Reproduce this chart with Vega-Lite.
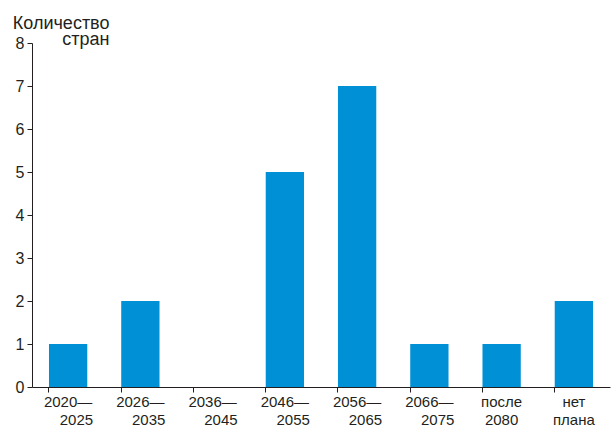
{
  "$schema": "https://vega.github.io/schema/vega-lite/v6.json",
  "autosize": "none",
  "width": 578,
  "height": 344,
  "padding": {"left": 32, "top": 43, "right": 2, "bottom": 40},
  "background": "white",
  "config": {
    "view": {"stroke": null},
    "font": "Liberation Sans"
  },
  "data": {
    "values": [
      {"period": "2020—|\u200b\u2007\u20072025", "count": 1},
      {"period": "2026—|\u200b\u2007\u20072035", "count": 2},
      {"period": "2036—|\u200b\u2007\u20072045", "count": 0},
      {"period": "2046—|\u200b\u2007\u20072055", "count": 5},
      {"period": "2056—|\u200b\u2007\u20072065", "count": 7},
      {"period": "2066—|\u200b\u2007\u20072075", "count": 1},
      {"period": "после|2080", "count": 1},
      {"period": "нет|плана", "count": 2}
    ]
  },
  "mark": {"type": "bar", "color": "#0090d6"},
  "encoding": {
    "x": {
      "field": "period",
      "type": "nominal",
      "sort": null,
      "scale": {"paddingInner": 0.47, "paddingOuter": 0.235},
      "axis": {
        "title": null,
        "labelAngle": 0,
        "labelExpr": "split(datum.label, '|')",
        "labelFont": "Liberation Sans",
        "labelFontSize": 15,
        "labelColor": "#231f20",
        "labelLineHeight": 18,
        "labelPadding": 2,
        "labelBaseline": "top",
        "bandPosition": 0,
        "tickSize": 5,
        "tickColor": "#231f20",
        "domainColor": "#231f20",
        "labelFlush": false,
        "labelOverlap": false
      }
    },
    "y": {
      "field": "count",
      "type": "quantitative",
      "scale": {"domain": [0, 8], "nice": false},
      "axis": {
        "values": [0, 1, 2, 3, 4, 5, 6, 7, 8],
        "grid": false,
        "title": ["Количество", "стран"],
        "titleAngle": 0,
        "titleAlign": "right",
        "titleBaseline": "alphabetic",
        "titleX": 77,
        "titleY": -15,
        "titleFont": "Liberation Sans",
        "titleFontSize": 18,
        "titleFontWeight": "normal",
        "titleColor": "#231f20",
        "titleLineHeight": 16,
        "labelFont": "Liberation Sans",
        "labelFontSize": 16,
        "labelColor": "#231f20",
        "labelPadding": 3,
        "tickSize": 5,
        "tickColor": "#231f20",
        "domainColor": "#231f20"
      }
    }
  }
}
